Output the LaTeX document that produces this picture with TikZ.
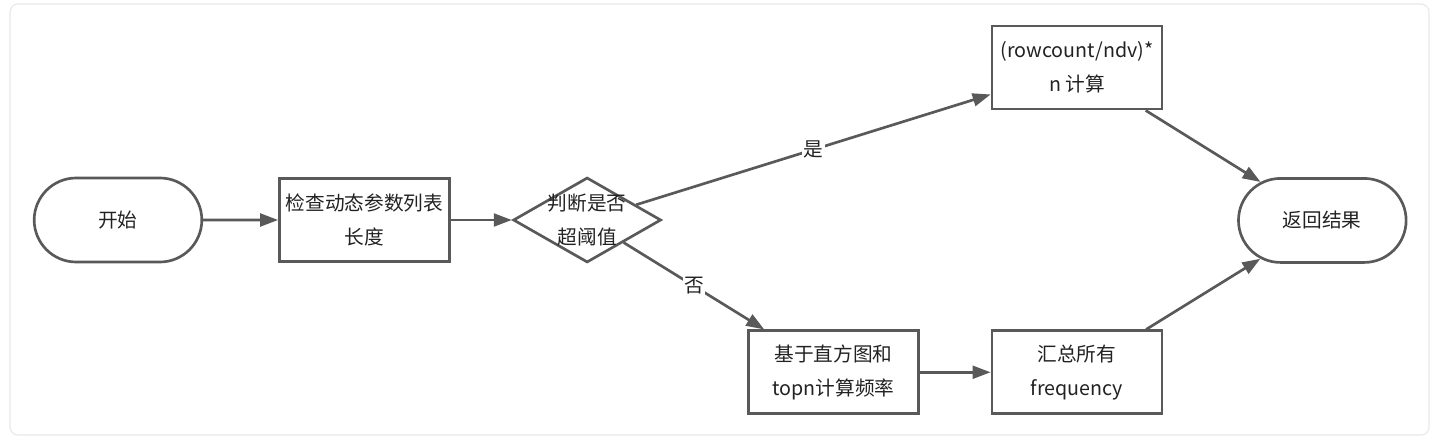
\documentclass[tikz,border=0pt]{standalone}
\usepackage{fontspec}
\setmainfont{Noto Sans CJK SC}
\usetikzlibrary{positioning,arrows.meta,shapes.geometric,shapes.misc}
\definecolor{linegray}{HTML}{595959}
\definecolor{inktext}{HTML}{222222}
\definecolor{framegray}{HTML}{E8E8E8}

\begin{document}
\begin{tikzpicture}[
  font=\fontsize{14}{24}\selectfont,
  line width=1.9pt,
  term/.style={draw=linegray, text=inktext, rounded rectangle, minimum width=44.25mm, minimum height=21mm, align=center},
  proc/.style={draw=linegray, text=inktext, rectangle, inner sep=1pt, minimum width=42.5mm, minimum height=20.75mm, align=center},
  decide/.style={draw=linegray, diamond, minimum width=37mm, minimum height=21.25mm, inner sep=0pt},
  flow/.style={draw=linegray, -{Triangle[length=4.5mm,width=3.2mm]}},
  tag/.style={fill=white, text=inktext, inner sep=1pt}
]
  % frame and page size
  \useasboundingbox (-29.5mm,55mm) rectangle (330.5mm,-55mm);
  \draw[framegray, line width=0.8pt, rounded corners=2mm] (-27mm,54mm) rectangle (327.75mm,-53.75mm);

  \node[term] (start) {开始};
  \node[proc, right=18.75mm of start] (check) {检查动态参数列表\\长度};
  \node[decide, right=15.25mm of check] (judge) {};
  \node[text=inktext, align=center] (judgetext) at (judge) {判断是否\\超阈值};
  \node[proc, below right=16.4mm and 40mm of judge.south] (hist) {基于直方图和\\topn计算频率};
  \node[proc, right=17.7mm of hist] (sum) {汇总所有\\frequency};
  \node[proc, above=54.75mm of sum] (calc) {(rowcount/ndv)*\\n 计算};
  \node[term, above right=27.25mm and 39.75mm of sum.north east, anchor=center] (result) {返回结果};

  \draw[flow] (start) -- (check);
  \draw[flow] (check) -- (judge);
  \draw[flow] (judge) -- node[tag] {是} (calc);
  \draw[flow] (judge) -- node[tag] {否} (hist);
  \draw[flow] (hist) -- (sum);
  \draw[flow] (calc) -- (result);
  \draw[flow] (sum) -- (result);
\end{tikzpicture}
\end{document}
